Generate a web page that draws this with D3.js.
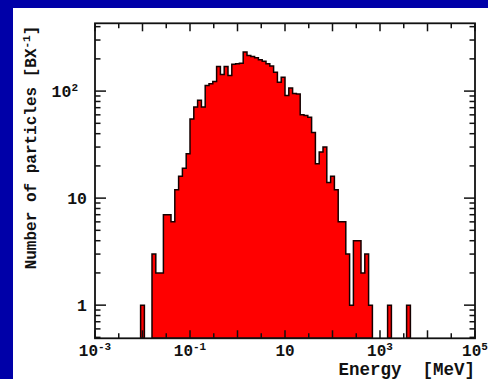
<!DOCTYPE html>
<html>
<head>
<meta charset="utf-8">
<script src="https://cdn.jsdelivr.net/npm/d3@7"></script>
<style>
  html, body { margin: 0; padding: 0; overflow: hidden; background: #0000a8; }
  svg { display: block; }
  text { font-family: "Liberation Mono", "DejaVu Sans Mono", monospace; fill: #111; font-weight: bold; }
</style>
</head>
<body>
<svg id="chart" width="488" height="379"></svg>
<script>
// Histogram binning: equal bins in log10(E / MeV)
const logEmin = -3;
const logEmax = 5;
const logBinWidth = 0.08;
const firstBin = 12;              // index of the first listed bin
// particle counts per bunch crossing, one entry per bin from firstBin on
const counts = [
  1, 0, 0, 3, 2, 2, 7, 7, 6, 12,
  16, 19, 26, 55, 71, 82, 71, 113, 117, 123,
  170, 143, 170, 140, 178, 180, 182, 232, 215, 210,
  205, 196, 190, 180, 172, 150, 121, 135, 91, 107,
  95, 94, 60, 59, 57, 41, 21, 27, 30, 14,
  16, 12, 6, 6, 3, 1, 4, 4, 2, 3,
  1, 0, 0, 0, 0, 1, 0, 0, 0, 0,
  1
];
const yDomain = [0.49, 430];

// axis labels
const xTickBases = ["10", "10", "10", "10", "10"];
const xTickSups = ["-3", "-1", "", "3", "5"];
const xTickValues = [1e-3, 1e-1, 1e1, 1e3, 1e5];
const yTickBases = ["1", "10", "10"];
const yTickSups = ["", "", "2"];
const yTickValues = [1, 10, 100];
const xTitle = "Energy  [MeV]";
const yTitleMain = "Number of particles [BX";
const yTitleSup = "-1";
const yTitleEnd = "]";

const svg = d3.select("#chart");
const W = 488, H = 379;
const plot = { left: 95, right: 475, top: 23.3, bottom: 338.3 };

// page panel
svg.append("rect").attr("width", W).attr("height", H).attr("fill", "#0000a8");
svg.append("rect").attr("x", 13).attr("y", 8).attr("width", W - 13).attr("height", H - 8).attr("fill", "#fff");

const x = d3.scaleLog().domain([10 ** logEmin, 10 ** logEmax]).range([plot.left, plot.right]);
const y = d3.scaleLog().domain(yDomain).range([plot.bottom, plot.top]);

svg.append("clipPath").attr("id", "plotClip")
  .append("rect").attr("x", plot.left).attr("y", plot.top)
  .attr("width", plot.right - plot.left).attr("height", plot.bottom - plot.top);

// split non-empty bins into contiguous runs and outline each as a step shape
const bins = counts.map((c, i) => {
  const k = firstBin + i;
  return { lo: 10 ** (logEmin + k * logBinWidth), hi: 10 ** (logEmin + (k + 1) * logBinWidth), c };
});
const runs = [];
let cur = null;
bins.forEach(b => {
  if (b.c > 0) { if (!cur) { cur = []; runs.push(cur); } cur.push(b); }
  else cur = null;
});
const line = d3.line().x(d => x(d[0])).y(d => y(d[1]));
const g = svg.append("g").attr("clip-path", "url(#plotClip)");
runs.forEach(run => {
  const pts = [[run[0].lo, yDomain[0]]];
  run.forEach(b => { pts.push([b.lo, b.c]); pts.push([b.hi, b.c]); });
  pts.push([run[run.length - 1].hi, yDomain[0]]);
  g.append("path").attr("d", line(pts) + "Z")
    .attr("fill", "#ff0000").attr("stroke", "#150000")
    .attr("stroke-width", 1.5).attr("stroke-linejoin", "miter");
});

// tick marks on all four sides, pointing inward
const ticks = svg.append("g").attr("stroke", "#111").attr("stroke-width", 1.5);
for (let k = 2 * logEmin; k <= 2 * logEmax; k++) {
  const xv = x(10 ** (k / 2));
  const len = k % 2 === 0 ? 8 : 5;
  ticks.append("line").attr("x1", xv).attr("x2", xv).attr("y1", plot.bottom).attr("y2", plot.bottom - len);
  ticks.append("line").attr("x1", xv).attr("x2", xv).attr("y1", plot.top).attr("y2", plot.top + len);
}
const yMinor = [];
for (let d = -1; d <= 2; d++) for (let m = 1; m <= 9; m++) {
  const v = m * 10 ** d;
  if (v >= yDomain[0] && v <= yDomain[1]) yMinor.push(v);
}
yMinor.forEach(v => {
  const yv = y(v);
  const len = yTickValues.includes(v) ? 11 : 5.5;
  ticks.append("line").attr("x1", plot.left).attr("x2", plot.left + len).attr("y1", yv).attr("y2", yv);
  ticks.append("line").attr("x1", plot.right).attr("x2", plot.right - len).attr("y1", yv).attr("y2", yv);
});

// frame
svg.append("rect").attr("x", plot.left).attr("y", plot.top)
  .attr("width", plot.right - plot.left).attr("height", plot.bottom - plot.top)
  .attr("fill", "none").attr("stroke", "#111").attr("stroke-width", 1.8);

// label with optional superscript
function labelWithSup(sel, base, sup, supSize) {
  sel.append("tspan").text(base);
  if (sup) {
    sel.append("tspan").attr("dy", -6).attr("font-size", supSize).text(sup);
  }
}

xTickValues.forEach((v, i) => {
  const t = svg.append("text").attr("x", x(v)).attr("y", 356)
    .attr("text-anchor", "middle").attr("font-size", 16);
  labelWithSup(t, xTickBases[i], xTickSups[i], 11);
});

yTickValues.forEach((v, i) => {
  const t = svg.append("text").attr("x", yTickSups[i] ? 78 : 87).attr("y", y(v) + 6)
    .attr("text-anchor", "end").attr("font-size", 16.5);
  labelWithSup(t, yTickBases[i], yTickSups[i], 11);
});

svg.append("text").attr("x", plot.right).attr("y", 374.5)
  .attr("text-anchor", "end").attr("font-size", 17.5)
  .style("white-space", "pre").text(xTitle);

const yt = svg.append("text")
  .attr("transform", `translate(36,${(23 + 272) / 2}) rotate(-90)`)
  .attr("text-anchor", "middle").attr("font-size", 16);
yt.append("tspan").text(yTitleMain);
yt.append("tspan").attr("dy", -6).attr("font-size", 11).text(yTitleSup);
yt.append("tspan").attr("dy", 6).text(yTitleEnd);
</script>
</body>
</html>
